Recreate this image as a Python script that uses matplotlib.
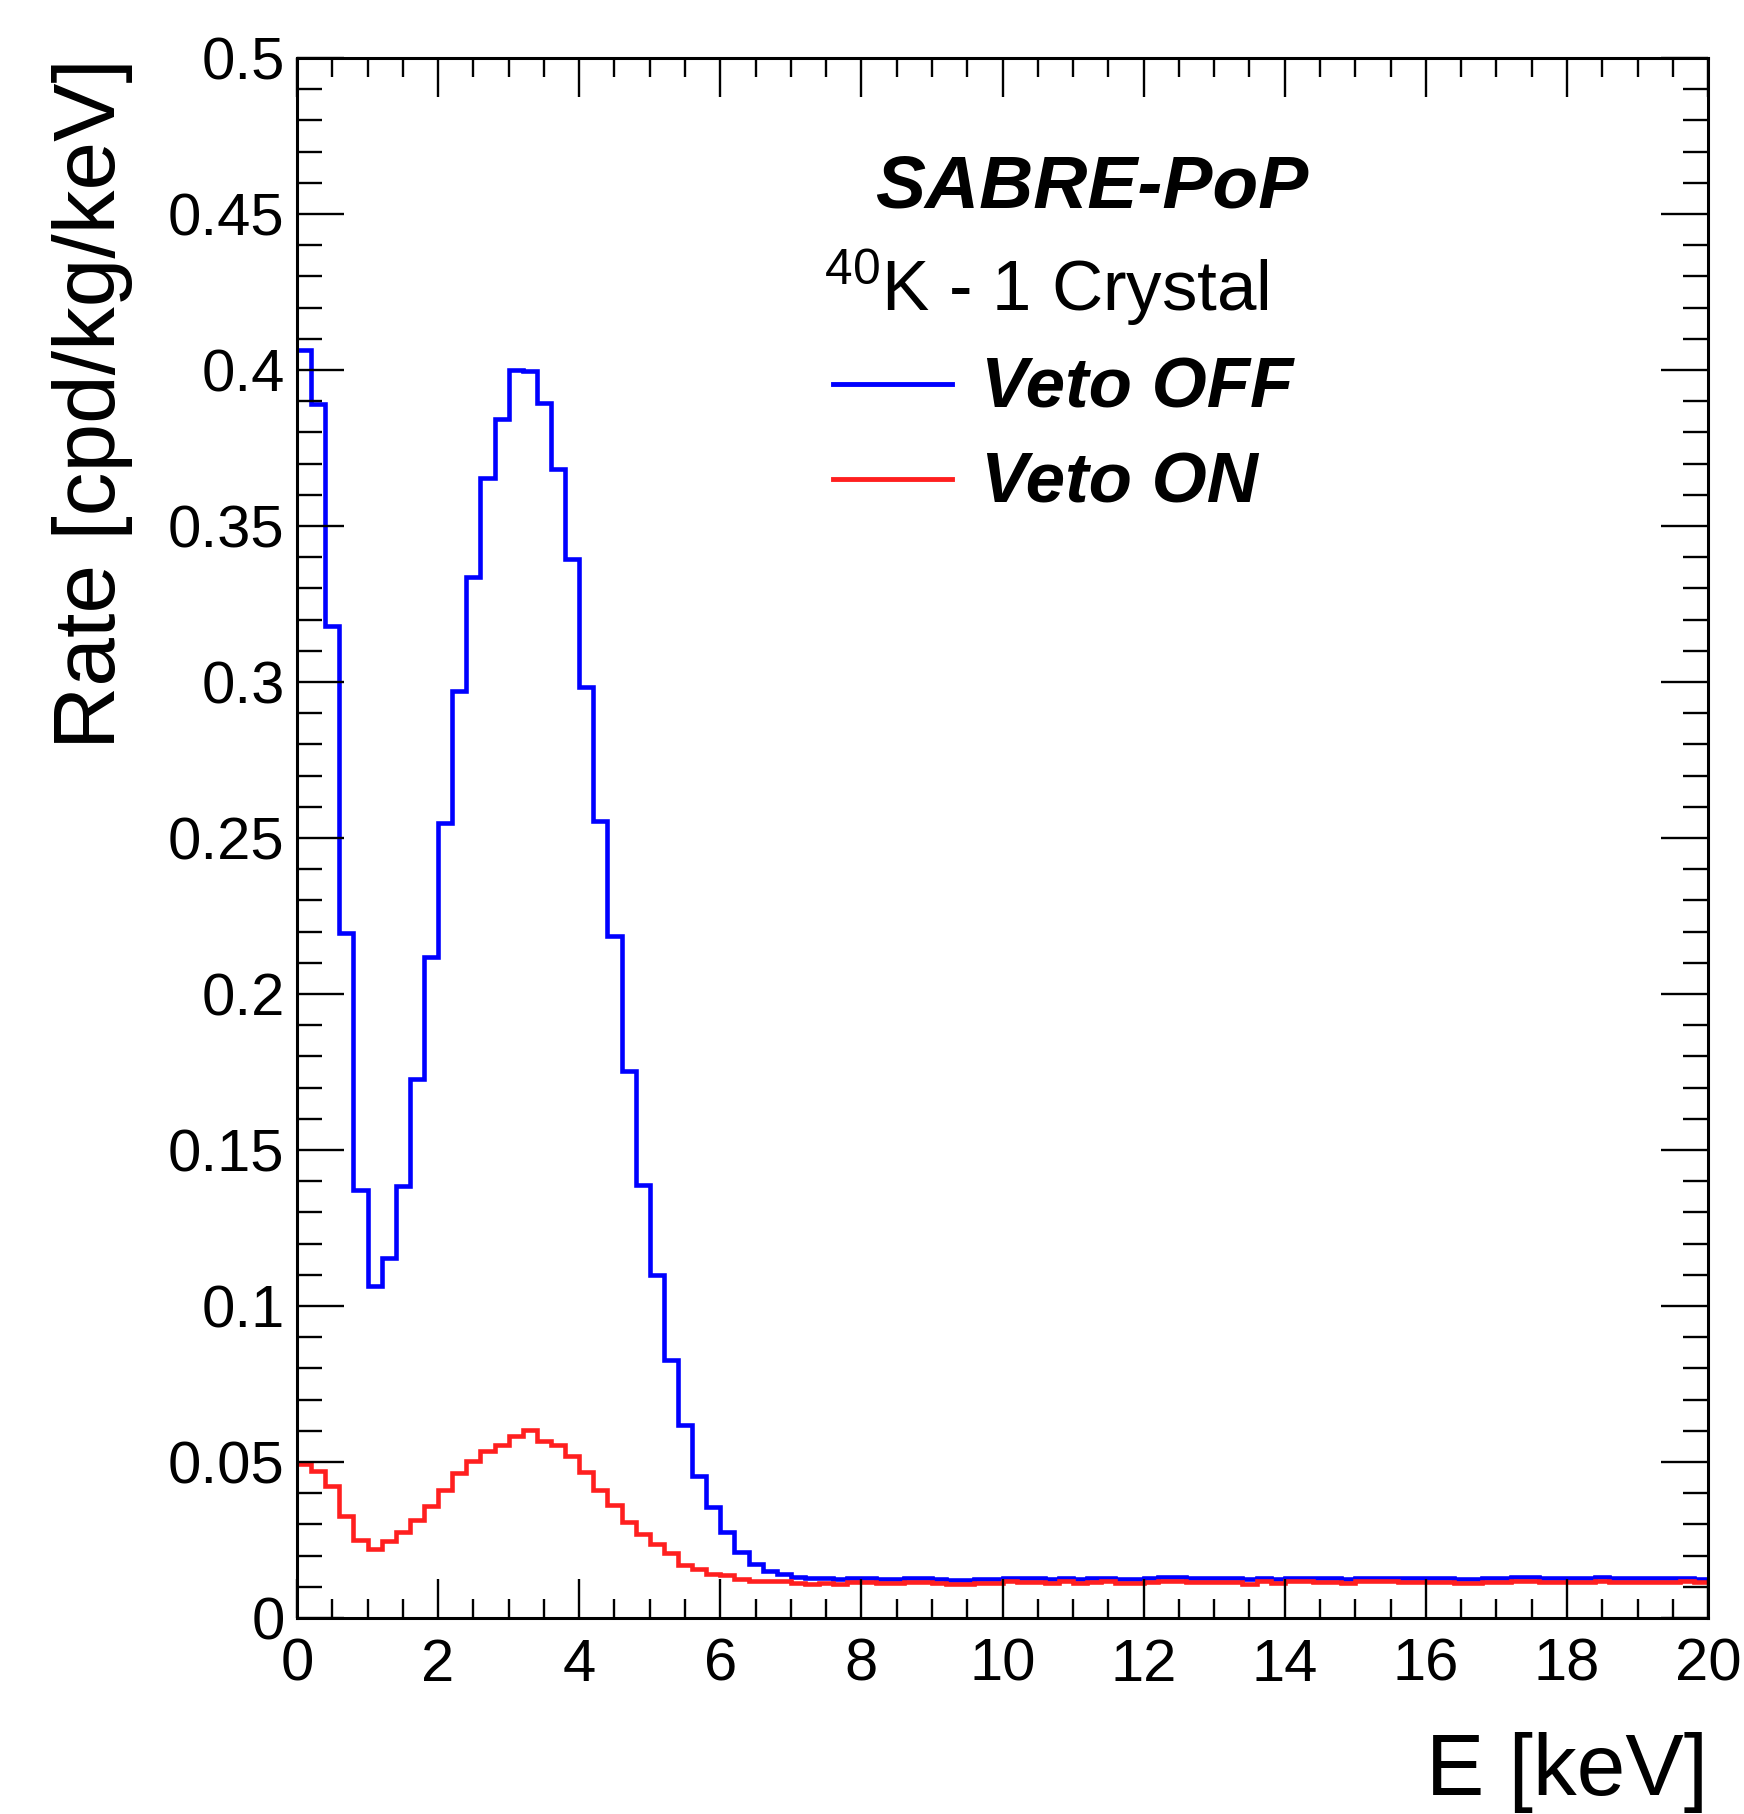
import numpy as np
import matplotlib
matplotlib.use('Agg')
import matplotlib.pyplot as plt
from matplotlib.ticker import MultipleLocator, FuncFormatter

plt.rcParams['font.family'] = ['Liberation Sans', 'DejaVu Sans']
plt.rcParams['mathtext.fontset'] = 'custom'
plt.rcParams['mathtext.rm'] = 'Liberation Sans'

# 100 bins of 0.2 keV from 0 to 20 keV
e_lo, e_hi, n_bins = 0.0, 20.0, 100

rate_veto_off = [
    0.4065, 0.389, 0.318, 0.2195, 0.1372, 0.1065, 0.1155, 0.1384, 0.1727, 0.212,
    0.2548, 0.2972, 0.3337, 0.3653, 0.3843, 0.400, 0.3997, 0.3895, 0.3684, 0.3393,
    0.2983, 0.2556, 0.2186, 0.1755, 0.1387, 0.110, 0.0826, 0.0618, 0.0456, 0.0356,
    0.0275, 0.0213, 0.0172, 0.0152, 0.0140, 0.0132, 0.0127, 0.0128, 0.0124, 0.0130,
    0.0130, 0.0125, 0.0125, 0.0129, 0.0128, 0.0125, 0.0122, 0.0122, 0.0124, 0.0124,
    0.0130, 0.0129, 0.0129, 0.0125, 0.0129, 0.0124, 0.0128, 0.0129, 0.0125, 0.0124,
    0.0128, 0.0132, 0.0131, 0.0128, 0.0127, 0.0127, 0.0127, 0.0124, 0.0130, 0.0124,
    0.0130, 0.0129, 0.0127, 0.0127, 0.0125, 0.0129, 0.0130, 0.0129, 0.0127, 0.0129,
    0.0129, 0.0128, 0.0124, 0.0125, 0.0129, 0.0129, 0.0132, 0.0132, 0.0130, 0.0128,
    0.0127, 0.0127, 0.0132, 0.0130, 0.0128, 0.0128, 0.0127, 0.0128, 0.0130, 0.0124,
]

rate_veto_on = [
    0.0494, 0.0473, 0.0424, 0.0326, 0.0251, 0.0223, 0.0246, 0.0276, 0.0315, 0.0358,
    0.0409, 0.0465, 0.0502, 0.0537, 0.0556, 0.0582, 0.0604, 0.0569, 0.0556, 0.0521,
    0.0469, 0.0411, 0.0362, 0.0309, 0.0270, 0.0236, 0.0208, 0.0171, 0.0157, 0.0142,
    0.0137, 0.0126, 0.0118, 0.0118, 0.0120, 0.0114, 0.0110, 0.0111, 0.0108, 0.0116,
    0.0116, 0.0114, 0.0114, 0.0116, 0.0116, 0.0114, 0.0108, 0.0108, 0.0111, 0.0111,
    0.0119, 0.0116, 0.0116, 0.0111, 0.0119, 0.0111, 0.0116, 0.0119, 0.0111, 0.0111,
    0.0116, 0.0119, 0.0119, 0.0116, 0.0116, 0.0116, 0.0116, 0.0110, 0.0118, 0.0111,
    0.0119, 0.0118, 0.0116, 0.0116, 0.0112, 0.0118, 0.0119, 0.0119, 0.0116, 0.0116,
    0.0116, 0.0116, 0.0111, 0.0112, 0.0116, 0.0116, 0.0119, 0.0119, 0.0116, 0.0116,
    0.0116, 0.0116, 0.0120, 0.0117, 0.0117, 0.0117, 0.0117, 0.0117, 0.0118, 0.0116,
]

blue = '#0000ff'
red = '#ff1f1f'

edges = np.linspace(e_lo, e_hi, n_bins + 1)

fig = plt.figure(figsize=(17.44, 18.14), dpi=100)
ax = fig.add_axes([0.1703, 0.1080, 0.8091, 0.8600])

ax.stairs(rate_veto_off, edges, baseline=None, color=blue, lw=3.3)
ax.stairs(rate_veto_on, edges, baseline=None, color=red, lw=3.3)

ax.set_xlim(0, 20)
ax.set_ylim(0, 0.5)

ax.xaxis.set_major_locator(MultipleLocator(2))
ax.xaxis.set_minor_locator(MultipleLocator(0.5))
ax.yaxis.set_major_locator(MultipleLocator(0.05))
ax.yaxis.set_minor_locator(MultipleLocator(0.01))
fmt = FuncFormatter(lambda v, p: '%g' % round(v, 4))
ax.xaxis.set_major_formatter(fmt)
ax.yaxis.set_major_formatter(fmt)

for side in ax.spines.values():
    side.set_linewidth(2.2)

ax.tick_params(which='both', direction='in', top=True, right=True, width=1.7)
ax.tick_params(axis='x', which='major', length=28, pad=14, labelsize=43)
ax.tick_params(axis='x', which='minor', length=14)
ax.tick_params(axis='y', which='major', length=34, pad=9, labelsize=43)
ax.tick_params(axis='y', which='minor', length=18)

fig.text(0.0659, 0.968, 'Rate [cpd/kg/keV]', rotation=90, rotation_mode='anchor',
         ha='right', va='baseline', fontsize=63)
fig.text(0.9794, 0.0105, 'E [keV]', ha='right', va='baseline', fontsize=63)

# legend block
ax.text(0.410, 0.904, 'SABRE-PoP', transform=ax.transAxes, fontsize=54,
        fontweight='bold', fontstyle='italic', va='baseline')
ax.text(0.3735, 0.838, r'$\mathregular{^{40}}$K - 1 Crystal', transform=ax.transAxes,
        fontsize=51, va='baseline')
ax.plot([0.380, 0.464], [0.791, 0.791], transform=ax.transAxes, color=blue, lw=3.5)
ax.plot([0.380, 0.464], [0.730, 0.730], transform=ax.transAxes, color=red, lw=3.5)
ax.text(0.485, 0.776, 'Veto OFF', transform=ax.transAxes, fontsize=51,
        fontweight='bold', fontstyle='italic', va='baseline')
ax.text(0.485, 0.715, 'Veto ON', transform=ax.transAxes, fontsize=51,
        fontweight='bold', fontstyle='italic', va='baseline')

fig.savefig('out.png', dpi=100)
